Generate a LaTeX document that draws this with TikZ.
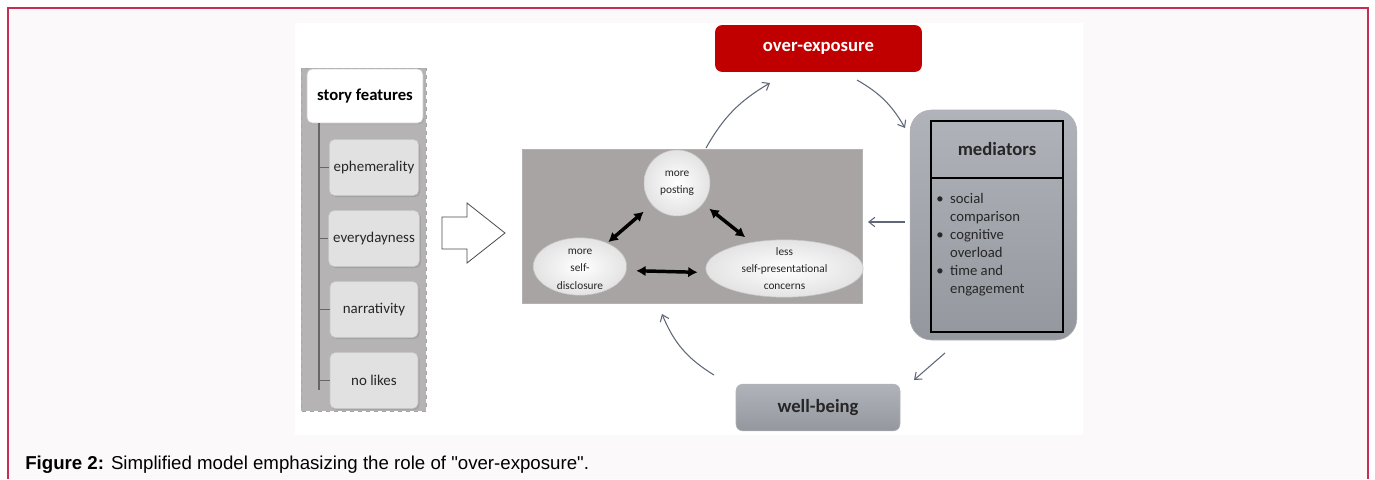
\documentclass[tikz,border=0pt]{standalone}
\usepackage{fontspec}
\setmainfont{Carlito}
\newfontfamily\capfont{Liberation Sans}
\usetikzlibrary{arrows.meta, positioning, shadows, shapes.geometric}

\definecolor{framered}{RGB}{200,45,85}
\definecolor{pagepink}{RGB}{252,249,250}
\definecolor{panelgray}{RGB}{181,179,179}
\definecolor{boxgray}{RGB}{225,225,225}
\definecolor{coregray}{RGB}{168,164,163}
\definecolor{expored}{RGB}{192,0,0}
\definecolor{medtop}{RGB}{176,179,186}
\definecolor{medbot}{RGB}{148,151,158}
\definecolor{flowgray}{RGB}{96,104,120}

\tikzset{
  panel/.style = {fill=panelgray, draw=gray!70, dashed, thin},
  featuretitle/.style = {fill=white, draw=gray!40, rounded corners=4pt,
    minimum width=87pt, minimum height=40.5pt,
    font=\fontsize{12.5}{14}\selectfont\bfseries,
    drop shadow={shadow xshift=1pt, shadow yshift=-1pt, opacity=0.25}},
  feature/.style = {fill=boxgray, draw=gray!45, rounded corners=4pt,
    minimum width=66pt, minimum height=42pt,
    font=\fontsize{11.2}{13}\selectfont, text=black!85,
    drop shadow={shadow xshift=1.2pt, shadow yshift=-1.2pt, opacity=0.3}},
  tree/.style = {draw=gray!80!black, line width=1.1pt},
  hollow/.style = {fill=white, draw=black!70, line width=0.6pt},
  core/.style = {fill=coregray, draw=gray!60, thin,
    minimum width=255pt, minimum height=115.5pt},
  bubble/.style = {inner color=white, outer color=gray!22, draw=gray!45, thin, inner sep=0pt},
  bubtext/.style = {align=center, font=\fontsize{8.5}{13}\selectfont, text=black!85, inner sep=0pt},
  biarrow/.style = {{Latex[length=7pt, width=8pt]}-{Latex[length=7pt, width=8pt]},
    line width=2.6pt, black},
  boxtitle/.style = {font=\fontsize{14}{16}\selectfont\bfseries},
  exposure/.style = {fill=expored, rounded corners=5pt, text=white,
    minimum width=155pt, minimum height=35pt, boxtitle},
  medbox/.style = {top color=medtop, bottom color=medbot, draw=gray!60,
    rounded corners=16pt, minimum width=125pt, minimum height=172.5pt},
  medframe/.style = {draw=black, line width=0.8pt,
    minimum width=99pt, minimum height=158.25pt},
  medlist/.style = {anchor=north west, inner sep=0pt, align=left, text=black!85,
    font=\fontsize{11}{13.5}\selectfont},
  wellbox/.style = {top color=medtop, bottom color=medbot, draw=gray!60,
    rounded corners=5pt, minimum width=123pt, minimum height=35pt, boxtitle,
    text=black!85},
  flow/.style = {-{Straight Barb[length=4.5pt, width=7pt]}, color=flowgray, line width=0.8pt}
}

\begin{document}
\begin{tikzpicture}[x=0.75pt, y=-0.75pt, node distance=53.25pt, on grid]
  % Page and frame
  \useasboundingbox (0,0) rectangle (1375,479);
  \fill[pagepink] (8,8) rectangle (1368,479);
  \draw[framered, line width=1.1pt] (8,479) -- (8,8) -- (1368,8) -- (1368,479);
  \fill[white] (295,23) rectangle (1083,435);

  % Story features panel
  \draw[panel] (301,68) rectangle (426,411);
  \node[featuretitle] (story)   at (365,96)    {story features};
  \node[feature]      (eph)     at (374,167.5) {ephemerality};
  \node[feature]      (every)   [below=of eph]   {everydayness};
  \node[feature]      (narr)    [below=of every] {narrativity};
  \node[feature]      (nolikes) [below=of narr]  {no likes};

  \coordinate (trunk) at (319,123);
  \draw[tree] (trunk) -- ([yshift=-7pt]trunk |- nolikes.west);
  \foreach \f in {eph, every, narr, nolikes}
    \draw[tree] (trunk |- \f.west) -- (\f.west);

  % Hollow arrow into the core
  \draw[hollow] (442,217) -- (467,217) -- (467,203) -- (505,233)
                -- (467,263) -- (467,249) -- (442,249) -- cycle;

  % Core: posting behaviour
  \node[core] (core) at (692,226) {};
  \node[bubble, circle, minimum size=49.5pt,
        label={[bubtext]center:more\\posting}] (post) at (677,183) {};
  \node[bubble, ellipse, minimum width=70pt, minimum height=43pt,
        label={[bubtext, yshift=-2pt]center:more\\self-\\disclosure}] (disc) at (580,266.5) {};
  \node[bubble, ellipse, minimum width=118pt, minimum height=43pt,
        label={[bubtext]center:less\\self-presentational\\concerns}] (conc) at (784.5,268.5) {};

  \draw[biarrow, shorten <=8pt, shorten >=1pt] (post) -- (disc);
  \draw[biarrow, shorten <=6pt, shorten >=6pt] (post) -- (conc);
  \draw[biarrow, shorten <=7pt, shorten >=6pt]
    ([yshift=-3pt]disc.east) -- ([yshift=-3pt]conc.west);

  % Over-exposure, mediators, well-being
  \node[exposure] (expo) at (818.5,48.5) {over-exposure};

  \node[medbox]   (med)   at (993.5,225) {};
  \node[medframe] (medin) at (997,226.5) {};
  \coordinate (split) at (997,178);
  \draw[line width=0.8pt] (medin.west |- split) -- (medin.east |- split);
  \node[boxtitle, text=black!85] (medtitle) at (997,149) {mediators};
  \node[medlist] (medlist) at (936,191)
    {\begin{tabular}{@{}l@{\hspace{5pt}}l@{}}
       \textbullet & social\\
                   & comparison\\
       \textbullet & cognitive\\
                   & overload\\
       \textbullet & time and\\
                   & engagement
     \end{tabular}};

  \node[wellbox] (well) at (818,407.5) {well-being};

  % Feedback loop
  \coordinate (up0)   at (706,148);  \coordinate (up1)   at (770,83);
  \coordinate (dn0)   at (857,80);   \coordinate (dn1)   at (905,128);
  \coordinate (back0) at (905,222);  \coordinate (back1) at (868,222);
  \coordinate (fall0) at (945,353);  \coordinate (fall1) at (914,380);
  \coordinate (rise0) at (714,375);  \coordinate (rise1) at (662,314);

  \path[flow] (up0)   edge [bend left=15] (up1)
              (dn0)   edge [bend left=15] (dn1)
              (back0) edge                (back1)
              (fall0) edge                (fall1)
              (rise0) edge [bend left=18] (rise1);

  % Caption
  \node[anchor=base west, inner sep=0pt, font=\capfont\fontsize{14}{16}\selectfont]
    (caption) at (25,469)
    {\textbf{Figure 2:} Simplified model emphasizing the role of "over-exposure".};
\end{tikzpicture}
\end{document}
